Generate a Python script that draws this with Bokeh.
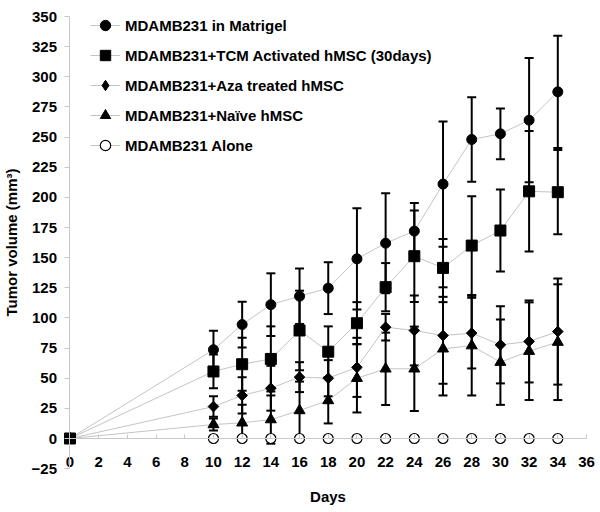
import numpy as np
from bokeh.plotting import figure
from bokeh.models import (Range1d, FixedTicker, Whisker, TeeHead, ColumnDataSource,
                          Legend, LegendItem)
from bokeh.embed import file_html
from bokeh.resources import INLINE

# ---------------- data ----------------
days = [0, 10, 12, 14, 16, 18, 20, 22, 24, 26, 28, 30, 32, 34]

matrigel = [0, 73.6, 94.5, 111, 118, 124.7, 149, 162, 172, 211, 248, 252.7, 264, 287.5]
matrigel_err = [0, 15.7, 19, 26, 23, 21.5, 42, 41.5, 23.3, 52, 35, 21, 51.5, 46.5]

tcm = [0, 55.6, 61.6, 66, 89.6, 72, 95.6, 125.5, 151.2, 141.5, 160, 172.5, 205, 204.3]
tcm_err = [0, 14, 22, 27, 33, 21, 17.5, 20, 38, 24, 41, 34, 50, 35]

aza = [0, 26.5, 35.7, 41.7, 50.9, 50, 59, 92.3, 89.6, 85.4, 87.4, 77.7, 80.5, 88.7]
aza_err = [0, 8.5, 15, 18.6, 12.4, 15, 24.5, 11, 29, 40, 29.3, 32, 34, 44]

naive = [0, 11.6, 13, 15.7, 23.2, 31.5, 50, 57.8, 57.8, 74.4, 77, 63.3, 72.4, 79.9]
naive_err = [0, 5, 15, 20, 24, 19, 28.4, 30, 35, 38.7, 41.3, 35.4, 40.5, 48]

alone = [0, 0, 0, 0, 0, 0, 0, 0, 0, 0, 0, 0, 0, 0]

names = ["MDAMB231 in Matrigel",
         "MDAMB231+TCM Activated hMSC (30days)",
         "MDAMB231+Aza treated hMSC",
         "MDAMB231+Naïve hMSC",
         "MDAMB231 Alone"]

x_ticks = [0, 2, 4, 6, 8, 10, 12, 14, 16, 18, 20, 22, 24, 26, 28, 30, 32, 34, 36]
y_ticks = [-25, 0, 25, 50, 75, 100, 125, 150, 175, 200, 225, 250, 275, 300, 325, 350]

FONT = "Liberation Sans"
AXIS_GRAY = "#c8c8c8"
LINE_GRAY = "#c4c4c4"

# ---------------- figure (frame spans the whole canvas; axes are fixed at 0) ----------------
p = figure(width=600, height=512,
           x_range=Range1d(-4.843, 36.976), y_range=Range1d(-61.37, 363.27),
           output_backend="svg", toolbar_location=None,
           min_border=0, min_border_left=0, min_border_right=0,
           min_border_top=0, min_border_bottom=0)
p.grid.visible = False
p.outline_line_color = None
p.background_fill_color = "white"

ax = p.xaxis[0]
ax.fixed_location = 0
ax.bounds = (0, 36)
ax.ticker = FixedTicker(ticks=x_ticks)
ax.major_tick_in = 4
ax.major_tick_out = 0
ax.minor_tick_line_color = None
ax.axis_line_color = AXIS_GRAY
ax.major_tick_line_color = AXIS_GRAY
ax.major_label_text_font = FONT
ax.major_label_text_font_size = "15px"
ax.major_label_text_font_style = "bold"
ax.major_label_text_color = "black"
ax.major_label_standoff = 18
ax.axis_label = "Days"
ax.axis_label_standoff = 18
ax.axis_label_text_font = FONT
ax.axis_label_text_font_size = "15px"
ax.axis_label_text_font_style = "bold"
ax.axis_label_text_color = "black"

ay = p.yaxis[0]
ay.fixed_location = 0
ay.bounds = (-25, 350)
ay.ticker = FixedTicker(ticks=y_ticks)
ay.major_tick_in = 0
ay.major_tick_out = 5
ay.minor_tick_line_color = None
ay.axis_line_color = AXIS_GRAY
ay.major_tick_line_color = AXIS_GRAY
ay.major_label_text_font = FONT
ay.major_label_text_font_size = "15px"
ay.major_label_text_font_style = "bold"
ay.major_label_text_color = "black"
ay.major_label_standoff = 8
ay.axis_label = "Tumor volume (mm³)"
ay.axis_label_standoff = 8
ay.axis_label_text_font = FONT
ay.axis_label_text_font_size = "15px"
ay.axis_label_text_font_style = "bold"
ay.axis_label_text_color = "black"

# ---------------- lines ----------------
series = [matrigel, tcm, aza, naive, alone]
line_rs = []
for vals in series:
    line_rs.append(p.line(days, vals, line_color=LINE_GRAY, line_width=1))

# ---------------- error bars ----------------
for vals, errs in [(matrigel, matrigel_err), (tcm, tcm_err), (aza, aza_err), (naive, naive_err)]:
    src = ColumnDataSource(dict(
        x=days,
        lower=[v - e for v, e in zip(vals, errs)],
        upper=[v + e for v, e in zip(vals, errs)]))
    w = Whisker(base="x", lower="lower", upper="upper", source=src,
                line_color="black", line_width=2,
                upper_head=TeeHead(size=9, line_color="black", line_width=2),
                lower_head=TeeHead(size=9, line_color="black", line_width=2))
    p.add_layout(w)

# ---------------- markers ----------------
r_alone = p.scatter(days, alone, marker="circle", size=10, fill_color="white",
                    line_color="black", line_width=1.2)
r_mat = p.scatter(days, matrigel, marker="circle", size=10, color="black")
r_tcm = p.scatter(days, tcm, marker="square", size=11, color="black")
# diamond glyph (used for the legend), covered exactly by the rotated squares below
r_aza_leg = p.scatter(days, aza, marker="diamond", size=10.4, color="black")
r_aza = p.scatter(days, aza, marker="square", angle=np.pi / 4, size=7.5, color="black")
r_naive = p.scatter(days, naive, marker="triangle", size=11, color="black")

items = [
    LegendItem(label=names[0], renderers=[line_rs[0], r_mat]),
    LegendItem(label=names[1], renderers=[line_rs[1], r_tcm]),
    LegendItem(label=names[2], renderers=[line_rs[2], r_aza_leg]),
    LegendItem(label=names[3], renderers=[line_rs[3], r_naive]),
    LegendItem(label=names[4], renderers=[line_rs[4], r_alone]),
]
legend = Legend(items=items, location=(90, 354), glyph_width=30, glyph_height=26,
                label_height=26, spacing=4, padding=0, margin=0, label_standoff=5,
                border_line_color=None, background_fill_alpha=0,
                label_text_font=FONT, label_text_font_size="15px",
                label_text_font_style="bold", label_text_color="black")
p.add_layout(legend)

open("out.html", "w").write(file_html(p, INLINE))
